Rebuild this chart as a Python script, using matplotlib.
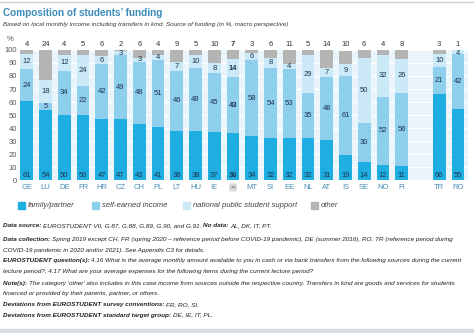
import matplotlib
matplotlib.use("Agg")
from matplotlib import pyplot as plt
import numpy as np

plt.rcParams["font.family"] = ["Liberation Sans", "DejaVu Sans"]

countries = ["GE", "LU", "DE", "FR", "HR", "CZ", "CH", "PL", "LT", "HU", "IE", "Ø",
             "MT", "SI", "EE", "NL", "AT", "IS", "SE", "NO", "FI", "TR", "RO"]
family = [61, 54, 50, 50, 47, 47, 43, 41, 38, 38, 37, 36, 34, 32, 32, 32, 31, 19, 14, 12, 11, 66, 55]
self_earned = [24, 5, 34, 22, 42, 49, 48, 51, 46, 48, 45, 43, 58, 54, 53, 35, 48, 61, 30, 52, 56, 21, 42]
national = [12, 18, 12, 24, 6, 3, 3, 4, 7, 10, 8, 14, 6, 8, 4, 29, 7, 9, 50, 32, 26, 10, 4]
other = [4, 24, 4, 5, 6, 2, 6, 4, 9, 5, 10, 7, 3, 6, 11, 5, 14, 10, 6, 4, 8, 3, 1]
legend_labels = ["family/partner", "self-earned income", "national public student support", "other"]
avg_idx = 11

c_family = "#1eaee2"
c_self = "#8fcfee"
c_nat = "#cce9f7"
c_other = "#b4b4b4"
lab_col = "#1e3550"

# positions: gap between FI and TR
xpos = np.array(list(range(21)) + [22, 23])

fig = plt.figure(figsize=(4.74, 3.33), dpi=100)
ax = fig.add_axes([0.042, 0.459, 0.945, 0.391])
ax.set_facecolor("#eaf5fb")

fam = np.array(family)
se = np.array(self_earned)
na = np.array(national)
ot = np.array(other)
w = 0.68
ax.bar(xpos, fam, w, color=c_family, zorder=3)
ax.bar(xpos, se, w, bottom=fam, color=c_self, zorder=3)
ax.bar(xpos, na, w, bottom=fam + se, color=c_nat, zorder=3)
ax.bar(xpos, ot, w, bottom=fam + se + na, color=c_other, zorder=3)

for i, x in enumerate(xpos):
    fw = "bold" if i == avg_idx else "normal"
    ax.text(x, 3.5, str(family[i]), ha="center", va="center", fontsize=5.5, color=lab_col, fontweight=fw, zorder=4)
    ax.text(x, family[i] + self_earned[i] / 2, str(self_earned[i]), ha="center", va="center",
            fontsize=5.5, color=lab_col, fontweight=fw, zorder=4)
    ax.text(x, min(family[i] + self_earned[i] + national[i] / 2, 97), str(national[i]), ha="center", va="center",
            fontsize=5.5, color=lab_col, fontweight=fw, zorder=4)
    ax.text(x, 104.5, str(other[i]), ha="center", va="center", fontsize=5.5, color="#333333",
            fontweight=fw, clip_on=False)

ax.set_xlim(-0.37, 23.53)
ax.set_ylim(0, 100)
ax.set_yticks(range(0, 101, 10))
ax.yaxis.grid(True, color="white", linewidth=0.8, zorder=1)
ax.tick_params(axis="y", length=0, labelsize=5.5, labelcolor="#555555", pad=2)
ax.set_xticks(xpos)
ax.set_xticklabels(["" if i == avg_idx else c for i, c in enumerate(countries)])
ax.tick_params(axis="x", length=0, labelsize=5.5, labelcolor="#4a8db5", pad=2.5)
ax.text(avg_idx, -5.5, "\u21d4", ha="center", va="center", fontsize=4, color="#777777",
        bbox=dict(boxstyle="round,pad=0.3", fc="#dddddd", ec="none"), clip_on=False, family="DejaVu Sans")
for s in ax.spines.values():
    s.set_visible(False)
ax.text(-0.9, 108, "%", ha="center", va="center", fontsize=5.5, color="#555555", clip_on=False)

# title
fig.add_artist(plt.Line2D([0, 1], [0.995, 0.995], color="#cccccc", linewidth=1))
fig.text(0.006, 0.962, "Composition of students’ funding", fontsize=7.2, fontweight="bold",
         color="#3a8bb8", va="center")
fig.text(0.006, 0.926, "Based on local monthly income including transfers in kind. Source of funding (in %, macro perspective)",
         fontsize=4.5, style="italic", color="#333333", va="center")

# legend, placed by hand
leg_x = [18, 92, 183, 311]
for lx, lab, col in zip(leg_x, legend_labels, [c_family, c_self, c_nat, c_other]):
    fig.add_artist(plt.Rectangle((lx / 474, 0.373), 7 / 474, 7 / 333, color=col, transform=fig.transFigure))
    fig.text((lx + 10) / 474, 0.384, lab, fontsize=5.6, style="italic", color="#444444", va="center")

# notes with bold-italic heads
notes = [
    (0.322, [("Data source: ", True), ("EUROSTUDENT VII, G.87, G.88, G.89, G.90, and G.91. ", False),
             ("No data: ", True), ("AL, DK, IT, PT.", False)]),
    (0.280, [("Data collection: ", True), ("Spring 2019 except CH, FR (spring 2020 – reference period before COVID-19 pandemic), DE (summer 2016), RO, TR (reference period during", False)]),
    (0.249, [("COVID-19 pandemic in 2020 and/or 2021). See Appendix C3 for details.", False)]),
    (0.217, [("EUROSTUDENT question(s): ", True), ("4.16 What is the average monthly amount available to you in cash or via bank transfers from the following sources during the current", False)]),
    (0.186, [("lecture period?, 4.17 What are your average expenses for the following items during the current lecture period?", False)]),
    (0.150, [("Note(s): ", True), ("The category 'other' also includes in this case income from sources outside the respective country. Transfers in kind are goods and services for students", False)]),
    (0.119, [("financed or provided by their parents, partner, or others.", False)]),
    (0.086, [("Deviations from EUROSTUDENT survey conventions: ", True), ("FR, RO, SI.", False)]),
    (0.054, [("Deviations from EUROSTUDENT standard target group: ", True), ("DE, IE, IT, PL.", False)]),
]
fig.canvas.draw()
renderer = fig.canvas.get_renderer()
for y, parts in notes:
    x = 0.006
    for txt, bold in parts:
        t = fig.text(x, y, txt, fontsize=4.6, style="italic", fontweight="bold" if bold else "normal",
                     color="#222222", va="center")
        bb = t.get_window_extent(renderer=renderer)
        x += bb.width / fig.bbox.width

fig.add_artist(plt.Rectangle((0.0, 0.0), 1.0, 0.012, color="#d5dde0", transform=fig.transFigure))

fig.savefig("out.png", dpi=100)
